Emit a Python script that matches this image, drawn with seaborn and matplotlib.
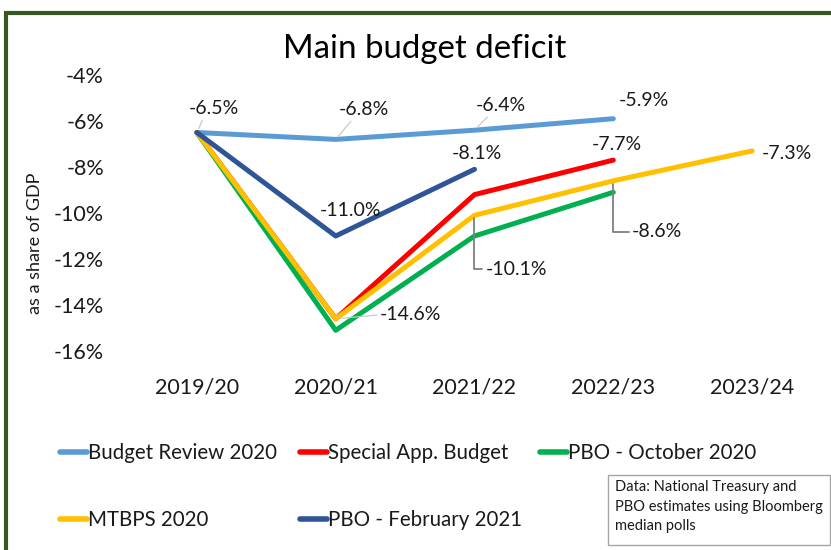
import matplotlib
matplotlib.use("Agg")
import matplotlib.pyplot as plt
import seaborn as sns
import pandas as pd
from matplotlib.patches import Rectangle
from matplotlib.ticker import FuncFormatter

# ---------------- data ----------------
years = ["2019/20", "2020/21", "2021/22", "2022/23", "2023/24"]
budget_review_2020 = [-6.5, -6.8, -6.4, -5.9, None]
special_app_budget = [-6.5, -14.6, -9.2, -7.7, None]
pbo_october_2020 = [-6.5, -15.1, -11.0, -9.1, None]
mtbps_2020 = [-6.5, -14.6, -10.1, -8.6, -7.3]
pbo_february_2021 = [-6.5, -11.0, -8.1, None, None]
series_names = ["Budget Review 2020", "Special App. Budget",
                "PBO - October 2020", "MTBPS 2020", "PBO - February 2021"]
series_values = [budget_review_2020, special_app_budget, pbo_october_2020,
                 mtbps_2020, pbo_february_2021]
yticks = [-16, -14, -12, -10, -8, -6, -4]
title = "Main budget deficit"
ylabel = "as a share of GDP"
note = "Data: National Treasury and\nPBO estimates using Bloomberg\nmedian polls"

colors = ["#5B9BD5", "#FF0000", "#00B050", "#FFC000", "#2F5597"]

# ---------------- style ----------------
sns.set_theme(style="white")
plt.rcParams["font.family"] = ["Lato", "DejaVu Sans"]
TXT = "#1a1a1a"

rows = []
for name, vals in zip(series_names, series_values):
    for yr, v in zip(years, vals):
        if v is not None:
            rows.append({"series": name, "year": yr, "value": v})
df = pd.DataFrame(rows)
df["year"] = pd.Categorical(df["year"], categories=years, ordered=True)

W, H = 831, 550
fig = plt.figure(figsize=(W / 100, H / 100), dpi=100)
ax = fig.add_axes([127.5 / W, 1 - 351 / H, 694 / W, 276 / H])

sns.lineplot(data=df, x="year", y="value", hue="series", hue_order=series_names,
             palette=colors, linewidth=3.6, sort=False, estimator=None, ax=ax,
             legend=True)
for ln in ax.get_lines():
    ln.set_solid_capstyle("round")
    ln.set_solid_joinstyle("round")

handles, labels = ax.get_legend_handles_labels()
ax.get_legend().remove()

ax.set_xlim(-0.5, len(years) - 0.5)
ax.set_ylim(min(yticks), max(yticks))
ax.set_yticks(yticks)
ax.yaxis.set_major_formatter(FuncFormatter(lambda v, p: f"{v:.0f}%"))
ax.set_xlabel("")
ax.set_ylabel("")
for s in ax.spines.values():
    s.set_visible(False)
ax.tick_params(axis="y", length=0, pad=17, labelsize=15.5, labelcolor=TXT)
ax.tick_params(axis="x", length=0, pad=19, labelsize=15.5, labelcolor=TXT)
ax.grid(False)
ax.set_facecolor("none")

# ---------------- data labels ----------------
def val(name, i):
    return series_values[series_names.index(name)][i]

faint = dict(arrowstyle="-", color="#C9C9C9", lw=0.9, shrinkA=0, shrinkB=3)
elbow = dict(arrowstyle="-", color="#7F7F7F", lw=1.3, shrinkA=0, shrinkB=2,
             connectionstyle="angle,angleA=0,angleB=90,rad=0", relpos=(0, 0.5))
label_specs = [
    ("Budget Review 2020", 0, (17, 24), dict(faint, relpos=(0.3, 0))),
    ("Budget Review 2020", 1, (28, 30), dict(faint, relpos=(0.3, 0))),
    ("Budget Review 2020", 2, (26, 25), dict(faint, relpos=(0.3, 0))),
    ("Budget Review 2020", 3, (31, 18), None),
    ("Special App. Budget", 3, (4, 16), None),
    ("PBO - February 2021", 1, (15, 25), None),
    ("PBO - February 2021", 2, (2, 16), None),
    ("MTBPS 2020", 1, (75, 4), dict(faint, relpos=(0, 0.5))),
    ("MTBPS 2020", 2, (42, -54), elbow),
    ("MTBPS 2020", 3, (44, -51), elbow),
    ("MTBPS 2020", 4, (35, -3), None),
]
for name, i, off, arrow in label_specs:
    v = val(name, i)
    ax.annotate(f"{v:.1f}%", xy=(i, v), xytext=off, textcoords="offset pixels",
                ha="center", va="center", fontsize=14, color=TXT,
                arrowprops=arrow, annotation_clip=False, zorder=5)

# ---------------- titles ----------------
fig.text(425 / W, 1 - 58 / H, title, ha="center", va="baseline",
         fontsize=23.8, color="black")
fig.text(35 / W, 1 - 243 / H, ylabel, ha="center", va="center",
         rotation=90, fontsize=13, color=TXT)

# ---------------- legend (row-major, three columns) ----------------
cols = [[0, 3], [1, 4], [2]]
col_x = [60, 300, 540]
for k, (idx, cx) in enumerate(zip(cols, col_x)):
    leg = fig.legend([handles[j] for j in idx], [labels[j] for j in idx],
                     loc="upper left", bbox_to_anchor=(cx / W, 1 - 443 / H),
                     frameon=False, fontsize=14.8, handlelength=1.3,
                     handletextpad=0.05, labelspacing=2.3, borderpad=0,
                     borderaxespad=0, labelcolor=TXT)
    for lh in leg.get_lines():
        lh.set_linewidth(4)
        lh.set_solid_capstyle("round")

# ---------------- note box ----------------
fig.add_artist(Rectangle((608 / W, 1 - 545 / H), 222 / W, 70 / H,
                         transform=fig.transFigure, facecolor="white",
                         edgecolor="#A6A6A6", lw=1.0))
fig.text(615 / W, 1 - 480 / H, note, ha="left", va="top", fontsize=10.5,
         color=TXT, linespacing=1.5)

# ---------------- outer frame ----------------
fig.add_artist(Rectangle((5.5 / W, -0.05), 1.1, 1 - 12.5 / H + 0.05,
                         transform=fig.transFigure, facecolor="none",
                         edgecolor="#375623", lw=3.0, clip_on=False))

fig.savefig("out.png", dpi=100, facecolor="white")
